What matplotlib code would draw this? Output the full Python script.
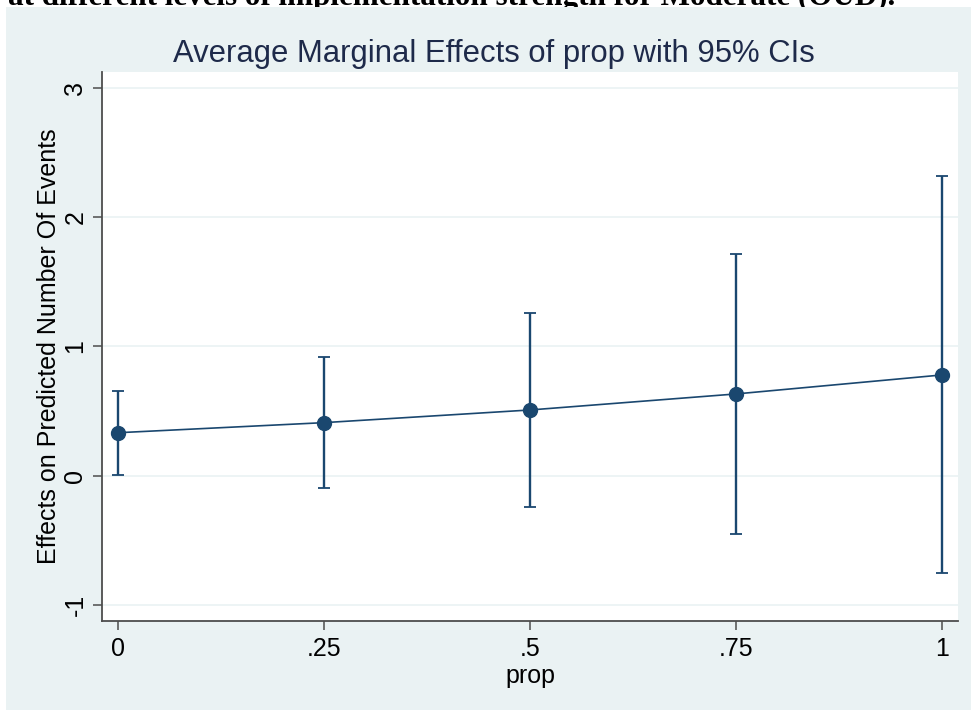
import numpy as np
import matplotlib.pyplot as plt
from matplotlib.patches import Rectangle

# average marginal effects of prop, with 95% confidence limits
prop = [0, 0.25, 0.5, 0.75, 1]
margin = [0.332, 0.41, 0.508, 0.632, 0.779]
ci_low = [0.005, -0.093, -0.24, -0.453, -0.753]
ci_high = [0.657, 0.92, 1.26, 1.712, 2.316]

xtick_vals = [0, 0.25, 0.5, 0.75, 1]
xtick_labels = ['0', '.25', '.5', '.75', '1']
ytick_vals = [-1, 0, 1, 2, 3]
ytick_labels = ['-1', '0', '1', '2', '3']

navy = '#1a476f'
stata_bg = '#eaf2f3'

plt.rcParams['font.family'] = ['Liberation Sans', 'DejaVu Sans']

fig = plt.figure(figsize=(9.71, 7.11), dpi=100, facecolor='white')

# caption line of the surrounding document, only its lower part shows
fig.text(8 / 971, 1 - 5.5 / 711,
         'at different levels of implementation strength for Moderate (OUD).',
         family='Liberation Serif', weight='bold', fontsize=22.4,
         ha='left', va='baseline', color='black', zorder=0)
fig.patches.append(Rectangle((6 / 971, 1 / 711), 965 / 971, 703 / 711,
                             transform=fig.transFigure, facecolor=stata_bg,
                             edgecolor='none', zorder=1))

ax = fig.add_axes([102 / 971, 90 / 711, 856 / 971, 549 / 711])
ax.set_facecolor('white')
ax.set_zorder(2)

m = np.array(margin)
yerr = [m - np.array(ci_low), np.array(ci_high) - m]
ax.errorbar(prop, margin, yerr=yerr, fmt='none', ecolor=navy,
            elinewidth=1.7, capsize=4.5, capthick=1.3, zorder=3)
ax.plot(prop, margin, color=navy, lw=1.2, marker='o', ms=10,
        markerfacecolor=navy, markeredgecolor=navy, zorder=4)

ax.set_xlim(-0.019, 1.0194)
ax.set_ylim(-1.124, 3.122)
ax.set_xticks(xtick_vals)
ax.set_xticklabels(xtick_labels)
ax.set_yticks(ytick_vals)
ax.set_yticklabels(ytick_labels, rotation=90, va='center')

ax.yaxis.grid(True, color=stata_bg, lw=1.2)
ax.set_axisbelow(True)

for side in ['top', 'right']:
    ax.spines[side].set_visible(False)
for side in ['left', 'bottom']:
    ax.spines[side].set_color('#4d4d4d')
    ax.spines[side].set_linewidth(1.3)

ax.tick_params(axis='both', length=6.5, width=1.1, color='#4d4d4d',
               labelsize=18, labelcolor='black', pad=4)
ax.tick_params(axis='x', pad=5)

ax.set_xlabel('prop', fontsize=18, labelpad=2)
ax.set_ylabel('Effects on Predicted Number Of Events', fontsize=18, labelpad=2)

# graph title sits centred on the whole graph region
fig.text(494 / 971, 1 - 62 / 711, 'Average Marginal Effects of prop with 95% CIs',
         fontsize=22.3, color='#1e2a4a', ha='center', va='baseline', zorder=3)

fig.savefig('out.png', dpi=100, facecolor='white')
